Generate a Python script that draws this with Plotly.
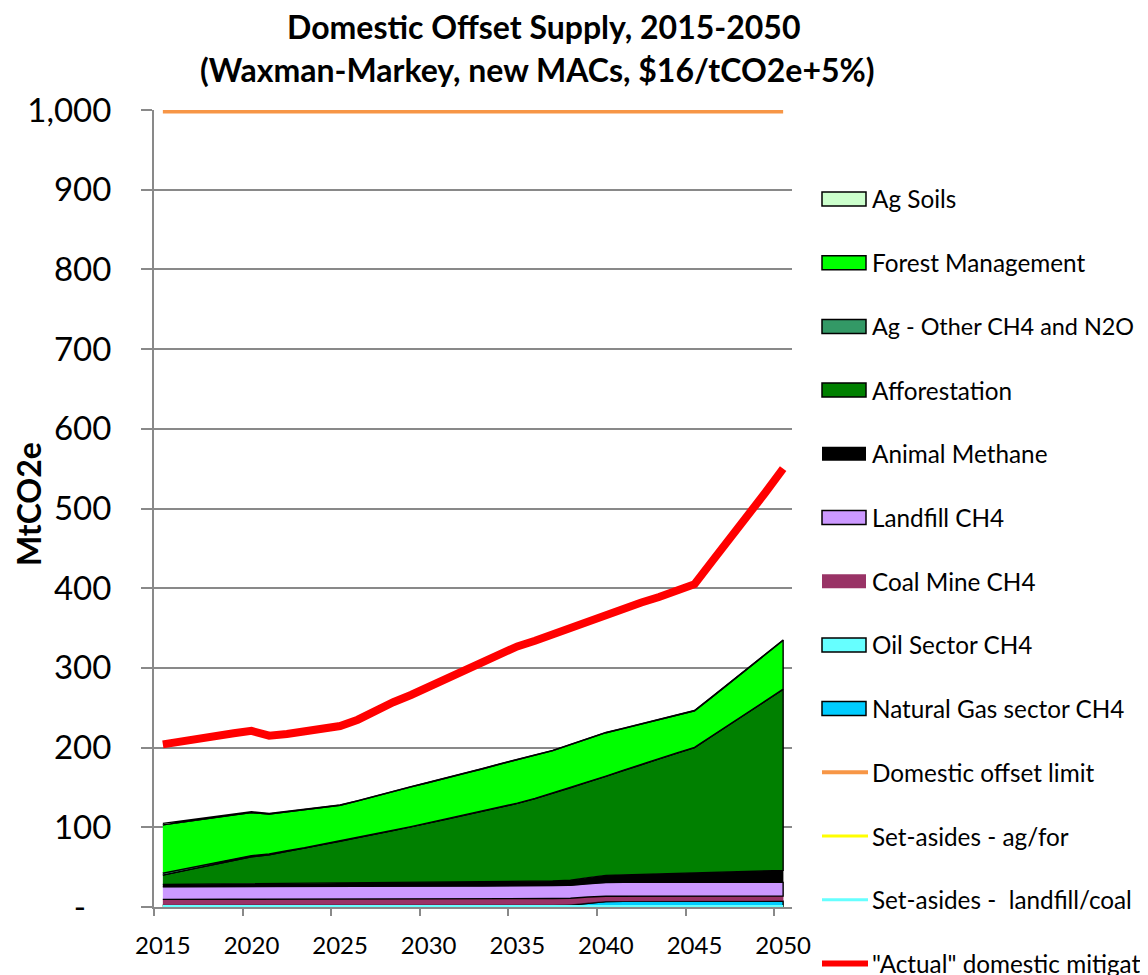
import numpy as np
import plotly.graph_objects as go

years = list(range(2015, 2051))

natural_gas = [1.9, 1.9, 1.9, 1.9, 1.9, 1.9, 1.9, 1.9, 1.9, 1.9, 1.9, 1.9, 1.9, 1.9, 1.9, 1.9, 1.9, 1.9, 1.9, 1.9, 1.9, 1.9, 1.9,
               2.5, 4.7, 6.7, 7.2, 7.2, 7.2, 7.2, 7.2, 7.2, 7.2, 7.2, 7.2, 7.2]
oil_sector = [0.8, 0.8, 0.8, 0.8, 0.8, 0.8, 0.8, 0.8, 0.8, 0.8, 0.8, 0.8, 0.8, 0.8, 0.8, 0.8, 0.8, 0.8,
              0.8, 0.8, 0.8, 0.8, 0.8, 0.8, 0.8, 0.8, 0.8, 0.8, 0.8, 0.8, 0.8, 0.8, 0.8, 0.8, 0.8, 0.8]
coal_mine = [6.9, 6.9, 7.0, 7.0, 7.1, 7.1, 7.2, 7.2, 7.3, 7.3, 7.3, 7.4, 7.4, 7.5, 7.5, 7.5, 7.6, 7.6, 7.7, 7.7, 7.8, 7.8, 7.9,
             7.7, 7.0, 6.0, 5.7, 5.7, 5.7, 5.7, 5.7, 5.7, 5.7, 5.7, 5.7, 5.7]
landfill = [15.8, 15.8, 15.8, 15.8, 15.8, 15.8, 15.8, 15.8, 15.8, 15.8, 15.8,
            16.0, 16.0, 16.0, 16.0, 16.0, 16.0, 16.0, 16.0, 16.0, 16.0, 16.0, 16.0,
            16.1, 16.6, 17.2, 17.2, 17.2, 17.2, 17.2, 17.2, 17.2, 17.2, 17.2, 17.2, 17.2]
animal_methane = [2.9, 3.0, 3.2, 3.3, 3.5, 3.6, 3.7, 3.9, 4.0, 4.2, 4.3, 4.5, 4.6, 4.7, 4.9, 5.0, 5.2, 5.3, 5.5, 5.6, 5.7, 5.9, 6.0,
                  6.5, 7.8, 9.0, 9.6, 10.2, 10.8, 11.4, 12.0, 12.6, 13.2, 13.8, 14.4, 15.0]
afforestation = [11.7, 16.6, 20.8, 25.2, 29.4, 33.8, 36.1, 40.4, 44.2, 48.5,
                 52.4, 56.4, 60.8, 65.1, 69.4, 73.8, 78.5, 83.4, 88.1, 93.0,
                 97.8, 103.6, 109.9, 115.9, 120.1, 124.3, 131.0, 137.4, 144.3, 150.7,
                 157.1, 171.5, 185.4, 199.3, 213.2, 227.1]
ag_other = [2.5, 2.2, 2.0, 1.8, 1.6, 1.5, 1.0, 0.5, 0.3, 0.3, 0.3, 0.3, 0.3, 0.3, 0.3, 0.3, 0.3, 0.3,
            0.3, 0.3, 0.3, 0.3, 0.3, 0.3, 0.3, 0.3, 0.3, 0.3, 0.3, 0.3, 0.3, 0.3, 0.3, 0.3, 0.3, 0.3]
forest_management = [60.5, 59.0, 57.9, 56.8, 55.7, 54.0, 50.2, 49.0, 47.9, 45.9,
                     44.9, 45.9, 47.4, 48.4, 49.9, 50.9, 51.4, 52.4, 52.9, 53.9,
                     54.4, 54.4, 53.4, 53.9, 53.9, 54.4, 52.4, 50.9, 48.9, 47.4,
                     45.9, 48.4, 51.9, 54.9, 57.9, 61.4]
ag_soils = [2.0, 1.8, 1.6, 1.4, 1.2, 1.0, 0.8, 0.5, 0.3, 0.3, 0.3, 0.3, 0.3, 0.3, 0.3, 0.3, 0.3, 0.3,
            0.3, 0.3, 0.3, 0.3, 0.3, 0.3, 0.3, 0.3, 0.3, 0.3, 0.3, 0.3, 0.3, 0.3, 0.3, 0.3, 0.3, 0.3]
offset_limit = [1000] * 36
setaside_agfor = [0] * 36
setaside_landfill_coal = [0] * 36
actual_mitigation = [204, 208, 211, 215, 218, 221, 215, 217, 221, 225, 227, 235, 247, 257, 266, 276, 286, 297,
                     306, 316, 327, 334, 342, 350, 359, 368, 374, 382, 389, 398, 405, 434, 462, 489, 520, 550]

y_tickvals = [0, 100, 200, 300, 400, 500, 600, 700, 800, 900, 1000]
y_ticktext = ["-\u00a0\u00a0\u00a0", "100", "200", "300", "400", "500", "600", "700", "800", "900", "1,000"]
x_tickvals = [2015, 2020, 2025, 2030, 2035, 2040, 2045, 2050]
x_ticktext = ["2015", "2020", "2025", "2030", "2035", "2040", "2045", "2050"]
x_tick_marks = [2014.5, 2019.5, 2024.5, 2029.5, 2034.5, 2039.5, 2044.5, 2049.5]

stack = [
    ("Natural Gas sector CH4", natural_gas, "#00CCFF", True),
    ("Oil Sector CH4", oil_sector, "#66FFFF", True),
    ("Coal Mine CH4", coal_mine, "#993366", False),
    ("Landfill CH4", landfill, "#CC99FF", True),
    ("Animal Methane", animal_methane, "#000000", False),
    ("Afforestation", afforestation, "#008000", True),
    ("Ag - Other CH4 and N2O", ag_other, "#339966", True),
    ("Forest Management", forest_management, "#00FF00", True),
    ("Ag Soils", ag_soils, "#CCFFCC", True),
]
lines = [
    ("Domestic offset limit", offset_limit, "#F79646", 7),
    ("Set-asides - ag/for", setaside_agfor, "#FFFF00", 3),
    ("Set-asides -  landfill/coal", setaside_landfill_coal, "#66FFFF", 4),
    ('"Actual" domestic mitigation', actual_mitigation, "#FF0000", 8),
]

GRID = "#898989"
FONT = "Lato"

fig = go.Figure()
bottom = np.zeros(len(years))
for name, vals, color, border in stack:
    top = bottom + np.array(vals, dtype=float)
    xs = years + years[::-1]
    ys = list(top) + list(bottom[::-1])
    fig.add_trace(go.Scatter(
        x=xs, y=ys, fill="toself", fillcolor=color, mode="lines",
        line=dict(color="#000000" if border else color, width=1.4 if border else 0.5),
        name=name, showlegend=False, hoverinfo="skip"))
    bottom = top

for name, vals, color, width in lines:
    fig.add_trace(go.Scatter(x=years, y=vals, mode="lines", name=name, xaxis="x2",
                             line=dict(color=color, width=width), showlegend=False))

# page has an 8px body margin: figure coords = screen coords - 8
OFF = 8
FIG_W, FIG_H = 1148 - OFF, 975 - OFF
L, R, T, B = 154 - OFF, 792 - OFF, 110 - OFF, 907 - OFF
def px(xs):
    return (xs - OFF - L) / (R - L)
def py(ys):
    return (B - (ys - OFF)) / (B - T)

annotations = [
    dict(text="<b>Domestic Offset Supply, 2015-2050</b>", x=px(543), y=py(26), xref="paper", yref="paper",
         xanchor="center", yanchor="middle", showarrow=False, font=dict(family=FONT, size=32, color="#000")),
    dict(text="<b>(Waxman-Markey, new MACs, $16/tCO2e+5%)</b>", x=px(537), y=py(69), xref="paper", yref="paper",
         xanchor="center", yanchor="middle", showarrow=False, font=dict(family=FONT, size=32, color="#000")),
    dict(text="<b>MtCO2e</b>", x=px(28), y=py(504), xref="paper", yref="paper", textangle=-90,
         xanchor="center", yanchor="middle", showarrow=False, font=dict(family=FONT, size=32, color="#000")),
]
shapes = []
legend_items = [
    ("Ag Soils", "rect", "#CCFFCC", True),
    ("Forest Management", "rect", "#00FF00", True),
    ("Ag - Other CH4 and N2O", "rect", "#339966", True),
    ("Afforestation", "rect", "#008000", True),
    ("Animal Methane", "rect", "#000000", False),
    ("Landfill CH4", "rect", "#CC99FF", True),
    ("Coal Mine CH4", "rect", "#993366", False),
    ("Oil Sector CH4", "rect", "#66FFFF", True),
    ("Natural Gas sector CH4", "rect", "#00CCFF", True),
    ("Domestic offset limit", "line", "#F79646", 4),
    ("Set-asides - ag/for", "line", "#FFFF00", 3),
    ("Set-asides -  landfill/coal", "line", "#66FFFF", 3),
    ('"Actual" domestic mitigation', "line", "#FF0000", 6),
]
y0 = 199
step = 63.7
for i, (label, kind, color, extra) in enumerate(legend_items):
    yc = y0 + i * step
    if kind == "rect":
        shapes.append(dict(type="rect", xref="paper", yref="paper", x0=px(822), x1=px(866),
                           y0=py(yc + 7), y1=py(yc - 7), fillcolor=color,
                           line=dict(color="#000000" if extra else color, width=1.5 if extra else 0)))
    else:
        shapes.append(dict(type="line", xref="paper", yref="paper", x0=px(822), x1=px(868),
                           y0=py(yc), y1=py(yc), line=dict(color=color, width=extra)))
    size = 23.4 if label.startswith("Ag - ") else 24.3
    annotations.append(dict(text=label.replace("  ", "\u00a0 "), x=px(870), y=py(yc), xref="paper", yref="paper",
                            xanchor="left", yanchor="middle", showarrow=False,
                            font=dict(family=FONT, size=size, color="#000")))

fig.update_layout(
    width=FIG_W, height=FIG_H,
    margin=dict(l=L, r=FIG_W - R, t=T, b=FIG_H - B, autoexpand=False),
    paper_bgcolor="white", plot_bgcolor="white",
    showlegend=False,
    font=dict(family=FONT, color="#000"),
    annotations=annotations, shapes=shapes,
    xaxis=dict(range=[2014.5, 2050.5], tickvals=x_tick_marks, showticklabels=False,
               ticks="outside", ticklen=7, tickwidth=2, tickcolor=GRID,
               automargin=False,
               showgrid=False, zeroline=False, showline=True, linecolor=GRID, linewidth=2),
    xaxis2=dict(range=[2014.5, 2050.5], overlaying="x", anchor="y", side="bottom",
                tickvals=x_tickvals, ticktext=x_ticktext, ticks="", automargin=False,
                showgrid=False, zeroline=False, showline=False,
                tickfont=dict(family=FONT, size=24, color="#000"), ticklabelstandoff=22),
    yaxis=dict(range=[0, 1000], tickvals=y_tickvals, ticktext=y_ticktext, ticks="outside",
               automargin=False,
               ticklen=11, tickwidth=2, tickcolor=GRID, showgrid=True, gridcolor=GRID, gridwidth=2,
               zeroline=False, showline=True, linecolor=GRID, linewidth=2,
               tickfont=dict(family=FONT, size=33, color="#000"), ticklabelstandoff=23),
)

fig.write_html("out.html")
